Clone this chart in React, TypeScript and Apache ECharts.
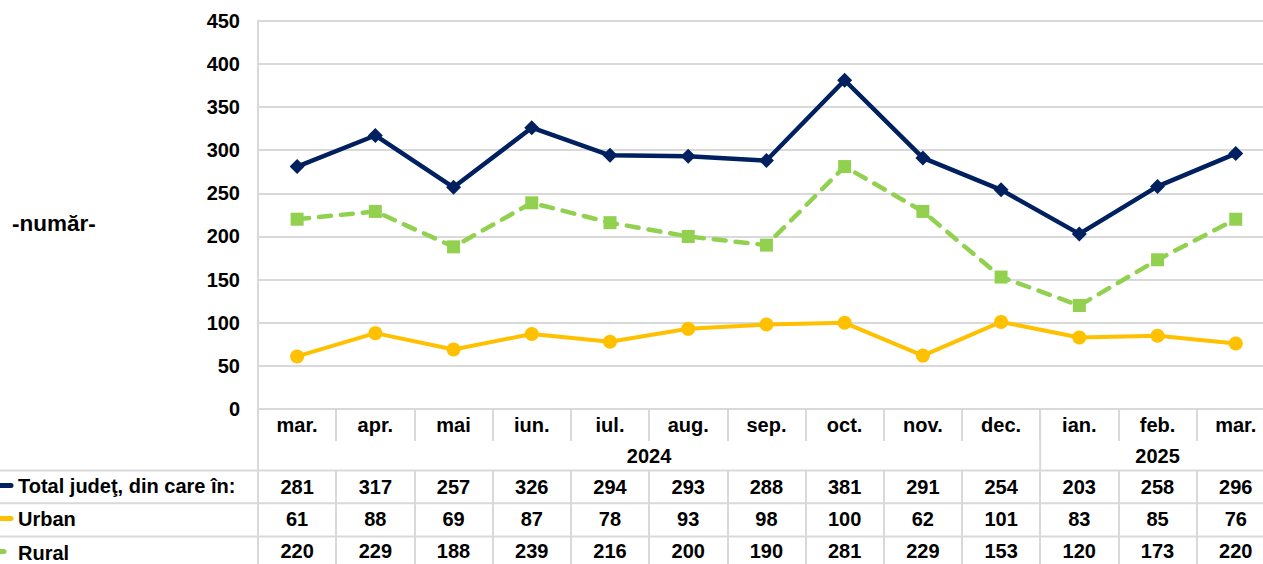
import React, { useEffect, useRef } from "react";
import * as echarts from "echarts";

const months = ["mar.", "apr.", "mai", "iun.", "iul.", "aug.", "sep.", "oct.", "nov.", "dec.", "ian.", "feb.", "mar."];
const years = [
  { label: "2024", from: 0, to: 9 },
  { label: "2025", from: 10, to: 12 },
];
const seriesNames = ["Total judeţ, din care în:", "Urban", "Rural"];
const total = [281, 317, 257, 326, 294, 293, 288, 381, 291, 254, 203, 258, 296];
const urban = [61, 88, 69, 87, 78, 93, 98, 100, 62, 101, 83, 85, 76];
const rural = [220, 229, 188, 239, 216, 200, 190, 281, 229, 153, 120, 173, 220];
const yMin = 0;
const yMax = 450;
const yStep = 50;
const yName = "-număr-";

const colors = ["#002060", "#FFC000", "#92D050"];
const FONT = '"Liberation Sans", Arial, sans-serif';
const FS = 20;
const GRID_COLOR = "#D9D9D9";
const CHART_W = 1300;

export default function App() {
  const ref = useRef<HTMLDivElement>(null);
  useEffect(() => {
    const chart = echarts.init(ref.current!, null, { renderer: "svg" });
    const gridLeft = 258;
    const gridTop = 20.7;
    const colW = 78.22;
    const gridW = colW * months.length;
    const gridH = 388.4;
    const gridBottom = gridTop + gridH;
    const rowLines = [470.5, 503.3, 536.5, 569.5];
    const monthRowBottom = 441;
    const valueRows = [total, urban, rural];

    const baseLabel = { color: "#000", fontWeight: "bold" as const, fontSize: FS, fontFamily: FONT };

    const xAxes: any[] = [
      {
        type: "category",
        data: months,
        position: "bottom",
        boundaryGap: true,
        axisLine: { show: true, lineStyle: { color: GRID_COLOR, width: 2 } },
        axisTick: { show: true, interval: 0, length: monthRowBottom - gridBottom, lineStyle: { color: GRID_COLOR, width: 2 } },
        axisLabel: { ...baseLabel, interval: 0, margin: 6 },
      },
    ];
    valueRows.forEach((vals, r) => {
      const top = rowLines[r];
      const h = rowLines[r + 1] - top;
      xAxes.push({
        type: "category",
        data: vals.map(String),
        position: "bottom",
        offset: top - gridBottom,
        boundaryGap: true,
        axisLine: { show: false },
        axisTick: { show: true, interval: 0, length: h, lineStyle: { color: GRID_COLOR, width: 2 } },
        axisLabel: { ...baseLabel, interval: 0, margin: 6.5 - r * 0.8 },
        splitLine: { show: false },
      });
    });

    const lineBase = { type: "line", xAxisIndex: 0, yAxisIndex: 0, symbolKeepAspect: true };

    chart.setOption({
      animation: false,
      backgroundColor: "#fff",
      textStyle: { fontFamily: FONT },
      grid: { left: gridLeft, top: gridTop, width: gridW, height: gridH, containLabel: false },
      xAxis: xAxes,
      yAxis: {
        type: "value",
        min: yMin,
        max: yMax,
        interval: yStep,
        axisLine: { show: true, lineStyle: { color: GRID_COLOR, width: 2 } },
        axisTick: { show: false },
        axisLabel: { ...baseLabel, margin: 18 },
        splitLine: { show: true, lineStyle: { color: GRID_COLOR, width: 2 } },
      },
      series: [
        {
          ...lineBase,
          name: seriesNames[0],
          data: total,
          color: colors[0],
          symbol: "diamond",
          symbolSize: 15,
          lineStyle: { width: 4.5, color: colors[0] },
          itemStyle: { color: colors[0] },
          z: 4,
        },
        {
          ...lineBase,
          name: seriesNames[1],
          data: urban,
          color: colors[1],
          symbol: "circle",
          symbolSize: 14,
          lineStyle: { width: 4, color: colors[1] },
          itemStyle: { color: colors[1] },
          z: 3,
        },
        {
          ...lineBase,
          name: seriesNames[2],
          data: rural,
          color: colors[2],
          symbol: "rect",
          symbolSize: 13,
          lineStyle: { width: 4.5, color: colors[2], type: [12, 10], cap: "round" },
          itemStyle: { color: colors[2] },
          z: 2,
        },
      ],
    });

    const px = months.map((_, i) => chart.convertToPixel({ xAxisIndex: 0 }, i) as number);
    const step = px.length > 1 ? px[1] - px[0] : colW;
    const leftB = (i: number) => px[i] - step / 2;
    const rightB = (i: number) => px[i] + step / 2;

    const g: any[] = [];
    rowLines.slice(0, 3).forEach((y) => {
      g.push({ type: "line", shape: { x1: 0, y1: y, x2: CHART_W, y2: y }, style: { stroke: GRID_COLOR, lineWidth: 2 }, silent: true });
    });
    const yearBounds = [leftB(0), ...years.map((yr) => rightB(yr.to))];
    yearBounds.forEach((x) => {
      g.push({ type: "line", shape: { x1: x, y1: gridBottom, x2: x, y2: rowLines[0] }, style: { stroke: GRID_COLOR, lineWidth: 2 }, silent: true });
    });
    years.forEach((yr) => {
      g.push({
        type: "text",
        style: { text: yr.label, x: (leftB(yr.from) + rightB(yr.to)) / 2, y: 455.5, align: "center", verticalAlign: "middle", fill: "#000", fontSize: FS, fontWeight: "bold", fontFamily: FONT },
        silent: true,
      });
    });
    seriesNames.forEach((name, r) => {
      const cy = (rowLines[r] + rowLines[r + 1]) / 2 - 0.5;
      g.push({
        type: "text",
        style: { text: name, x: 18, y: cy, align: "left", verticalAlign: "middle", fill: "#000", fontSize: FS, fontWeight: "bold", fontFamily: FONT },
        silent: true,
      });
      const x2 = r === 2 ? 4 : 11;
      g.push({ type: "line", shape: { x1: -8, y1: cy - 1, x2, y2: cy - 1 }, style: { stroke: colors[r], lineWidth: 5, lineCap: "round" }, silent: true });
    });
    g.push({
      type: "text",
      style: { text: yName, x: 12, y: 223.5, align: "left", verticalAlign: "middle", fill: "#000", fontSize: 22.5, fontWeight: "bold", fontFamily: FONT },
      silent: true,
    });
    chart.setOption({ graphic: g });

    return () => chart.dispose();
  }, []);
  return (
    <div style={{ position: "absolute", left: 0, top: 0, width: 1263, height: 564, overflow: "hidden", background: "#fff" }}>
      <div ref={ref} style={{ width: CHART_W, height: 564 }} />
    </div>
  );
}
